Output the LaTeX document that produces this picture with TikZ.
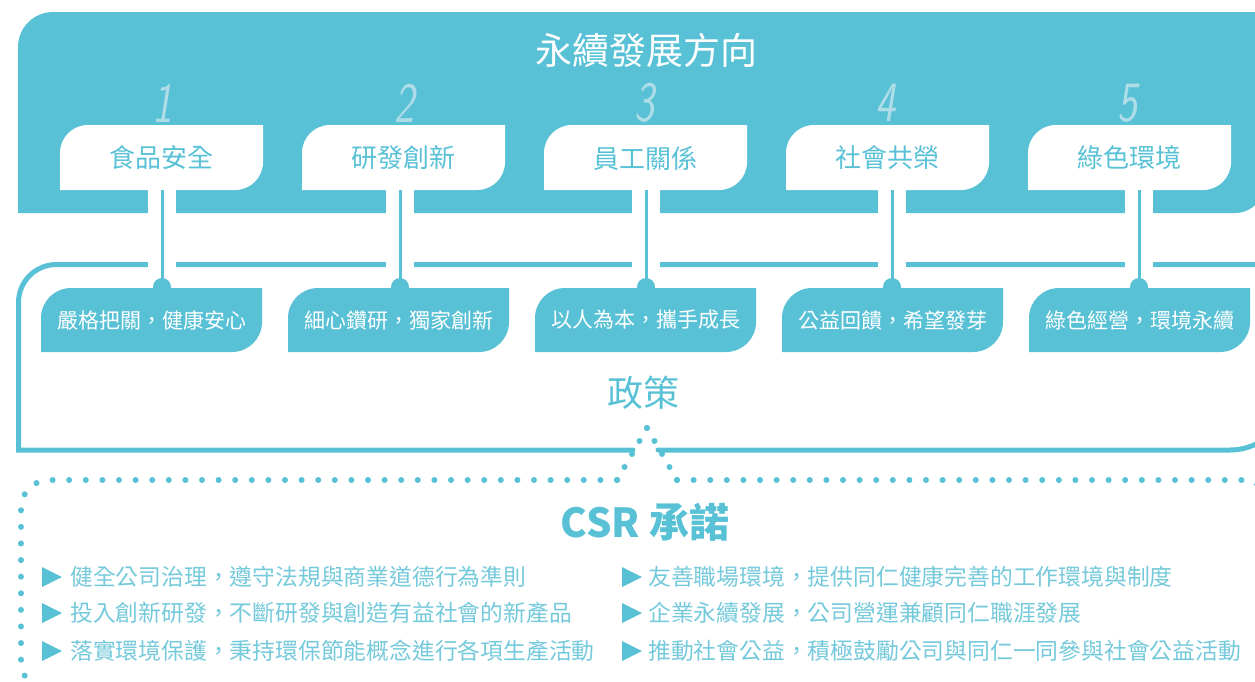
\documentclass[tikz,border=0pt]{standalone}
\usepackage{fontspec}
\setmainfont{Noto Sans CJK TC}
\definecolor{csrteal}{HTML}{58C1D6}
\definecolor{csrtext}{HTML}{74C9DB}
\definecolor{csrnum}{HTML}{AEDDE8}
\tikzset{
  tabtext/.style={text=csrteal,font=\fontsize{26}{30}\selectfont,inner sep=0pt},
  boxtext/.style={text=white,font=\fontsize{21}{25}\selectfont,inner sep=0pt},
  numtext/.style={text=csrnum,font=\sffamily\itshape\fontsize{57}{60}\selectfont,inner sep=0pt,xscale=0.75},
  bullettext/.style={text=csrtext,font=\fontsize{22.8}{26}\selectfont,inner sep=0pt,anchor=west},
  stemline/.style={draw=csrteal,line width=3pt},
  frameline/.style={draw=csrteal,line width=5pt,line cap=round},
  dotline/.style={draw=csrteal,line width=6pt,line cap=round},
}
\begin{document}
\begin{tikzpicture}[x=1pt,y=-1pt]
\useasboundingbox (0,0) rectangle (1255,681);
\clip (0,0) rectangle (1255,681);
% top panel
\fill[csrteal] (18,213) -- (18,47) .. controls (18,27.7) and (33.7,12) .. (53,12)
  -- (1265,12) -- (1265,183) .. controls (1265,199.6) and (1251.6,213) .. (1235,213) -- cycle;
\node[text=white,font=\fontsize{37}{40}\selectfont,inner sep=0pt] (title) at (646,50) {永續發展方向};
% tabs
\foreach \L/\n in {60/1,302/2,544/3,786/4,1028/5}{
  \fill[white] (\L,190) -- (\L,153) .. controls (\L,137.5) and (\L+12.5,125) .. (\L+28,125)
    -- (\L+203,125) -- (\L+203,162) .. controls (\L+203,177.5) and (\L+190.5,190) .. (\L+175,190) -- cycle;
}
\node[tabtext] (tab1) at (161.5,158) {食品安全};
\node[tabtext] (tab2) at (403.5,158) {研發創新};
\node[tabtext] (tab3) at (645.5,158) {員工關係};
\node[tabtext] (tab4) at (887.5,158) {社會共榮};
\node[tabtext] (tab5) at (1129.5,158) {綠色環境};
\node[numtext] (num1) at (163,103) {1};
\node[numtext] (num2) at (405,103) {2};
\node[numtext] (num3) at (645,103) {3};
\node[numtext] (num4) at (886,103) {4};
\node[numtext] (num5) at (1128,103) {5};
% policy frame
\draw[frameline] (633,450) -- (18.5,450) -- (18.5,302.5) .. controls (18.5,281.5) and (35.5,264.5) .. (56.5,264.5)
  -- (1290,264.5) -- (1290,390) .. controls (1290,423.1) and (1263.1,450) .. (1230,450) -- (658,450);
% gaps
\foreach \s in {162,400,646,892,1139}{
  \fill[white] (\s-14,189.5) rectangle (\s+14,214);
  \fill[white] (\s-14,258) rectangle (\s+14,271);
}
% lower boxes
\foreach \L in {41,288,535,782,1029}{
  \fill[csrteal] (\L,352) -- (\L,318) .. controls (\L,301.4) and (\L+13.4,288) .. (\L+30,288)
    -- (\L+221,288) -- (\L+221,322) .. controls (\L+221,338.6) and (\L+207.6,352) .. (\L+191,352) -- cycle;
}
% stems
\foreach \s/\n in {162/1,400/2,646/3,892/4,1139/5}{
  \coordinate (st\n) at (\s,190);
  \coordinate (sb\n) at (\s,287);
  \draw[stemline] (st\n) -- (sb\n);
  \fill[csrteal] (sb\n) circle (9);
}
\node[boxtext] (box1) at (151.5,320) {嚴格把關，健康安心};
\node[boxtext] (box2) at (398.5,320) {細心鑽研，獨家創新};
\node[boxtext] (box3) at (645.5,320) {以人為本，攜手成長};
\node[boxtext] (box4) at (892.5,320) {公益回饋，希望發芽};
\node[boxtext] (box5) at (1139.5,320) {綠色經營，環境永續};
\node[text=csrteal,font=\fontsize{36}{40}\selectfont,inner sep=0pt] (policy) at (643,393) {政策};
% dotted commitment frame
\coordinate (peak) at (647,428);
\coordinate (cl) at (617,480);
\coordinate (cr) at (677,480);
\draw[dotline,dash pattern=on 0pt off 15pt] (peak) -- (cl);
\draw[dotline,dash pattern=on 0pt off 15pt] (peak) -- (cr);
\draw[dotline,dash pattern=on 0pt off 16.6pt,rounded corners=28pt] (cl) -- (21,480) -- (21,690) -- (400,690);
\draw[dotline,dash pattern=on 0pt off 16.6pt,rounded corners=25pt] (cr) -- (1268,480) -- (1268,700);
\node[text=csrteal,font=\bfseries\fontsize{40}{44}\selectfont,inner sep=0pt] (csr) at (645,522) {CSR 承諾};
% bullets
\foreach \y/\n in {577/1,613/2,651/3}{
  \fill[csrteal] (42,\y-10) -- (62,\y) -- (42,\y+10) -- cycle;
  \fill[csrteal] (622,\y-10) -- (642,\y) -- (622,\y+10) -- cycle;
}
\node[bullettext] (l1) at (70,577) {健全公司治理，遵守法規與商業道德行為準則};
\node[bullettext] (l2) at (70,613) {投入創新研發，不斷研發與創造有益社會的新產品};
\node[bullettext] (l3) at (70,651) {落實環境保護，秉持環保節能概念進行各項生產活動};
\node[bullettext] (r1) at (648,577) {友善職場環境，提供同仁健康完善的工作環境與制度};
\node[bullettext] (r2) at (648,613) {企業永續發展，公司營運兼顧同仁職涯發展};
\node[bullettext] (r3) at (648,651) {推動社會公益，積極鼓勵公司與同仁一同參與社會公益活動};
\end{tikzpicture}
\end{document}
